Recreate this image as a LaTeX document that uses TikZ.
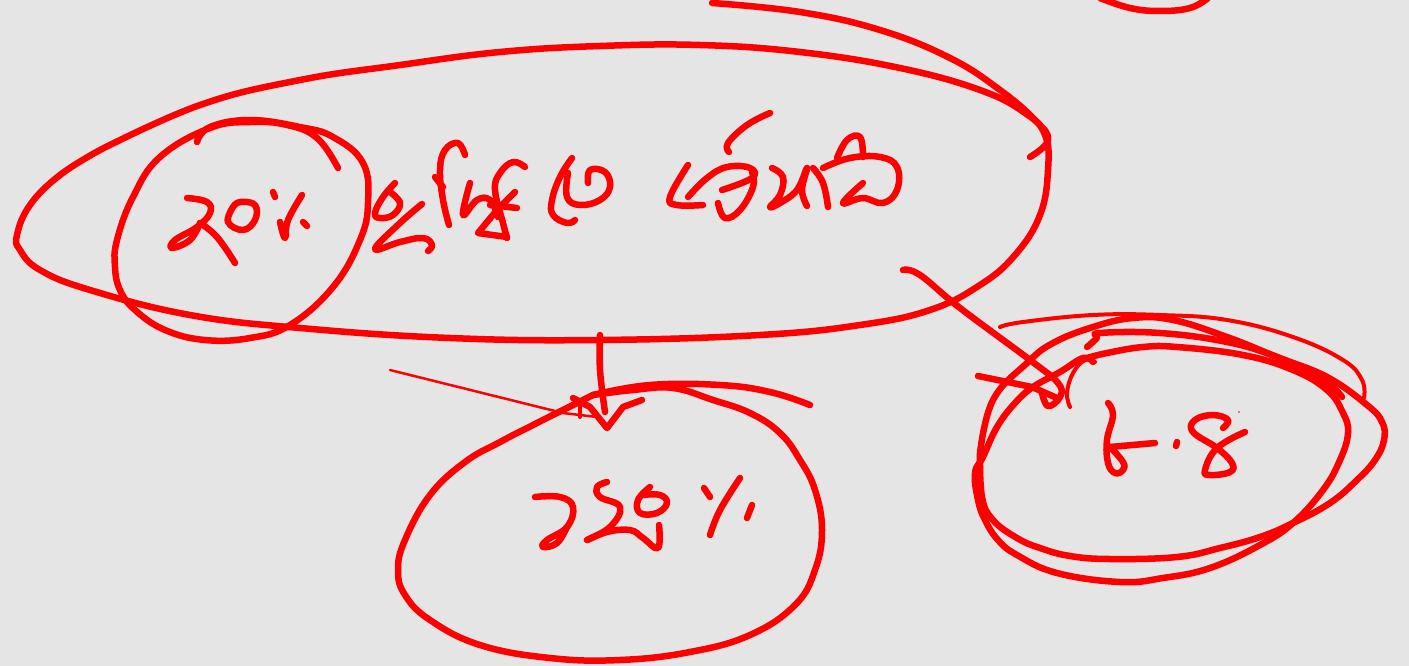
\documentclass[tikz,border=0pt]{standalone}
\definecolor{paper}{HTML}{E5E5E5}
\definecolor{inkred}{HTML}{FF0000}
\tikzset{
  ink/.style={draw=inkred,line width=6.5pt,line cap=round,line join=round},
  thinink/.style={draw=inkred,line width=4pt,line cap=round,line join=round},
  hair/.style={draw=inkred,line width=2.5pt,line cap=round}
}
\newcommand{\stroke}[2][ink]{\draw[#1] plot[smooth,tension=0.7] coordinates {#2};}
\begin{document}
\begin{tikzpicture}[x=1pt,y=-1pt]
    \fill[paper] (0,0) rectangle (1409,666);
    \useasboundingbox (0,0) rectangle (1409,666);
    \begin{scope}
    \clip (0,0) rectangle (1409,666);
    %% Big ellipse
    \stroke{(1030,157) (1048,140) (1035,120) (1000,90) (950,58) (880,30) (800,12) (712,3)}
    \stroke{(100,150) (200,105) (300,80) (400,65) (500,52) (600,46) (700,45) (800,52) (900,68) (980,90) (1025,113) (1045,135) (1048,170) (1040,215) (1015,255) (980,285) (930,310) (860,325) (760,335) (600,340) (450,338) (300,328) (190,315) (90,290) (40,270) (20,250) (17,235) (30,205) (60,175) (100,150)}
    \stroke{(1100,-2) (1130,8) (1160,11) (1190,8) (1208,-2)}
    %% Left circle
    \stroke{(338,168) (317,138) (287,125) (250,122) (210,128) (160,157) (133,197) (117,240) (115,267) (120,290) (135,310) (165,330) (205,340) (250,338) (290,325) (333,287) (360,240) (368,203) (363,163) (333,137) (300,127) (250,120) (210,127) (197,142)}
    %% 20%
    \stroke{(187,198) (207,202) (210,213) (197,227) (175,240) (172,248) (190,240) (200,223)}
    \stroke{(200,223) (217,237) (235,263)}
    \stroke{(233,207) (228,222) (243,230) (255,220) (255,205) (240,202) (233,207)}
    \stroke{(273,192) (275,197)}
    \stroke{(280,222) (285,238) (288,220) (302,195)}
    \stroke{(303,222) (307,226)}
    %% Heading, first word
    \stroke{(395,183) (383,197) (375,213) (380,218) (393,215) (400,203) (390,192)}
    \stroke{(422,204) (400,223) (375,249) (400,242) (423,238) (432,245) (428,251)}
    \stroke{(465,155) (458,143) (445,150) (440,170) (443,200) (449,225)}
    \stroke{(435,177) (443,187)}
    \stroke{(470,183) (463,215) (477,200) (490,200) (498,217)}
    \stroke{(525,167) (513,162) (500,173) (495,190) (503,223) (507,238)}
    \draw[ink] (515,192) -- (497,210) -- (478,233) -- (507,237);
    \draw[ink] (490,205) -- (517,208);
    \stroke{(572,158) (560,177) (552,200) (553,215) (567,223) (575,220)}
    \stroke{(588,183) (590,170) (605,172) (610,187) (600,200) (580,205) (567,197) (568,173)}
    %% Heading, second word
    \stroke{(688,165) (670,197) (677,205) (703,205)}
    \stroke{(688,197) (707,178) (727,167) (750,168) (752,178) (722,190)}
    \stroke{(718,203) (725,218) (740,210) (753,187) (752,172)}
    \stroke{(770,113) (747,125) (728,143) (729,152)}
    \stroke{(772,168) (783,177) (780,195) (770,207) (780,203) (797,190) (807,168) (802,190) (807,206)}
    \stroke{(813,168) (823,183) (828,207)}
    \stroke{(823,168) (850,158) (880,157) (897,167) (897,190) (883,203) (863,198) (843,203) (863,183)}
    \stroke{(837,158) (847,140) (860,137) (863,157)}
    %% Bottom circle and its arrow
    \stroke{(600,335) (600,370) (605,412)}
    \draw[hair] (390,370) -- (563,413) -- (597,417);
    \draw[ink] (573,398) -- (590,407) -- (607,428) -- (623,407) -- (642,400);
    \draw[thinink] (580,403) -- (580,417);
    \stroke{(810,405) (770,392) (720,385) (650,385) (593,395)}
    \stroke{(593,395) (633,390) (673,388) (713,400) (750,413) (780,433) (800,460) (815,490) (822,530) (815,570) (795,605) (750,635) (690,652) (620,660) (550,658) (480,645) (430,620) (405,595) (398,570) (405,540) (430,495) (465,462) (500,442) (533,425) (567,408) (593,395)}
    %% 125 %
    \stroke{(535,497) (560,497) (573,507) (567,527) (547,540) (543,547) (557,543) (567,527)}
    \stroke{(607,482) (597,487) (600,497) (620,507) (610,527) (587,540) (607,532) (630,530) (643,538) (658,548) (659,525)}
    \stroke{(650,487) (638,500) (640,513) (657,513) (667,503) (660,495) (643,495)}
    \stroke{(704,488) (710,497)}
    \stroke{(740,478) (720,510) (710,535)}
    \stroke{(752,505) (747,518)}
    %% Right arrow
    \stroke{(903,270) (920,275) (960,308) (1030,360) (1058,383) (1060,397) (1048,406) (1042,393)}
    \draw[ink] (978,376) -- (1032,387) -- (1057,398);
    \stroke[thinink]{(1070,407) (1067,393) (1073,373) (1085,360) (1095,362)}
    %% Right loops
    \stroke[thinink]{(1000,327) (1023,322) (1093,315) (1160,315) (1227,320) (1293,337) (1343,360) (1362,380) (1364,398)}
    \stroke{(1087,347) (1097,338) (1100,333) (1160,333) (1227,342) (1277,357) (1320,377) (1342,397)}
    \stroke{(980,453) (993,400) (1027,363) (1053,343) (1093,327) (1133,318) (1173,320) (1227,337) (1277,357) (1327,377) (1367,405) (1382,422) (1384,440) (1375,460) (1357,480) (1330,503) (1293,523) (1260,537) (1220,548) (1177,557) (1110,559) (1070,556) (1040,548) (1017,538) (993,520) (982,497) (980,453)}
    \stroke{(1093,362) (1083,358) (1060,372) (1033,387) (1015,403) (997,427) (983,457) (975,473) (978,500) (985,520) (998,540) (1017,555) (1057,573) (1120,582) (1163,578) (1210,568) (1260,545) (1293,523) (1323,490) (1340,460) (1348,433) (1343,413) (1327,390) (1293,370) (1243,355) (1177,347) (1143,347) (1107,353) (1087,358)}
    %% Right value
    \stroke{(1108,403) (1113,415) (1107,440) (1108,463) (1115,473) (1123,470) (1123,462) (1110,447)}
    \draw[ink] (1110,447) -- (1155,443);
    \draw[ink] (1177,442) -- (1176,446);
    \stroke{(1223,428) (1228,420) (1213,415) (1195,420) (1193,432) (1217,448) (1232,463) (1230,472) (1210,475) (1205,470) (1217,448) (1245,432)}
    \fill[inkred] (1239,412) circle [radius=0.8pt];
    \end{scope}
\end{tikzpicture}
\end{document}
